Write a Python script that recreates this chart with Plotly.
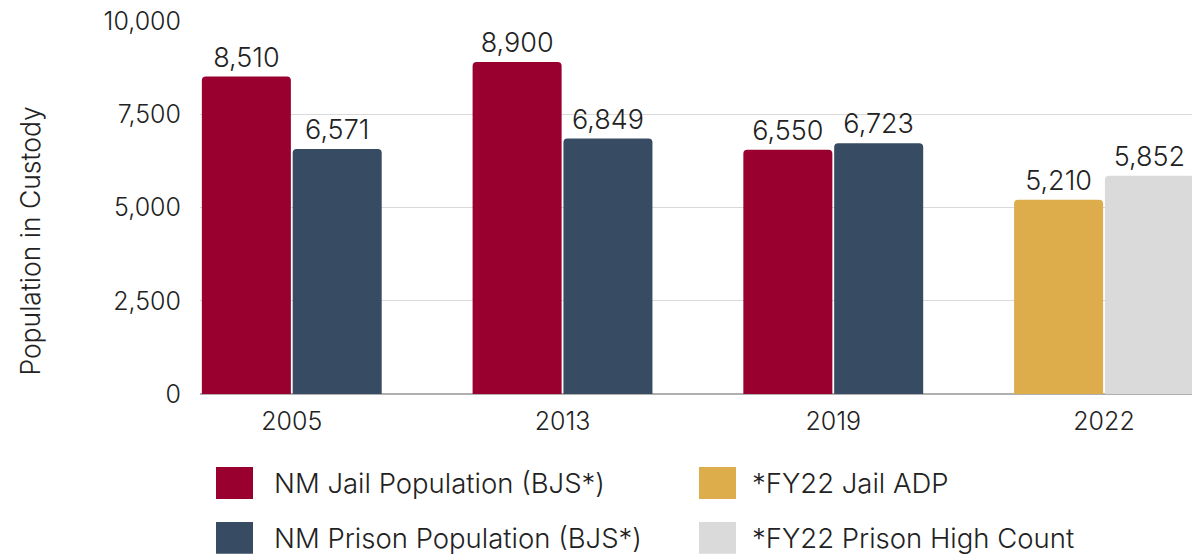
import plotly.graph_objects as go

years = ["2005", "2013", "2019", "2022"]
jail_bjs = [8510, 8900, 6550, None]
prison_bjs = [6571, 6849, 6723, None]
fy22_jail = [None, None, None, 5210]
fy22_prison = [None, None, None, 5852]

series_names = ["NM Jail Population (BJS*)", "NM Prison Population (BJS*)",
                "*FY22 Jail ADP", "*FY22 Prison High Count"]
colors = ["#990030", "#374C63", "#DDAD4B", "#DBDADB"]
y_ticks = [0, 2500, 5000, 7500, 10000]

W, H = 1192, 554
L, R, T, B = 200, 1192, 20.7, 394
FONT = "Inter, Roboto, sans-serif"
TXT = "#222222"
WT = 300

def px(xp):
    return (xp - L) / (R - L)

def py(yp):
    return (B - yp) / (B - T)

fig = go.Figure()
series = [jail_bjs, prison_bjs, fy22_jail, fy22_prison]
groups = ["a", "b", "a", "b"]
for name, vals, col, grp in zip(series_names, series, colors, groups):
    fig.add_trace(go.Bar(
        x=years, y=vals, name=name, offsetgroup=grp,
        marker=dict(color=col, line=dict(width=0)),
        text=[f"{v:,}" if v is not None else "" for v in vals],
        textposition="outside", cliponaxis=False,
        textfont=dict(family=FONT, size=27, color=TXT, weight=WT),
        showlegend=False,
    ))

fig.update_layout(
    width=W, height=H,
    margin=dict(l=L, r=W - R, t=T, b=H - B),
    paper_bgcolor="white", plot_bgcolor="white",
    barmode="group", bargap=0.329, bargroupgap=0.02,
    barcornerradius=4,
    font=dict(family=FONT, color=TXT, weight=WT),
    uniformtext=dict(mode=False),
)
fig.update_xaxes(
    type="category", range=[-0.339, 3.325],
    showgrid=False, showline=False, zeroline=False, ticks="",
    tickfont=dict(family=FONT, size=25, color=TXT, weight=WT),
    ticklabelstandoff=10,
)
fig.update_yaxes(
    range=[0, 10000], tickvals=y_ticks,
    ticktext=[f"{v:,}" for v in y_ticks],
    showgrid=True, gridcolor="#D9D9D9", gridwidth=1,
    zeroline=True, zerolinecolor="#AFAFAF", zerolinewidth=1.5,
    showline=False, ticks="",
    tickfont=dict(family=FONT, size=25, color=TXT, weight=WT),
    ticklabelstandoff=18,
)

# Axis title
fig.add_annotation(
    text="Population in Custody", textangle=-90,
    xref="paper", yref="paper", x=px(30), y=py(241.5),
    showarrow=False, font=dict(family=FONT, size=26.5, color=TXT, weight=WT),
    xanchor="center", yanchor="middle",
)

# Manual legend (large square swatches)
legend_pos = [
    (216, 467, 272, 483),
    (216, 522, 272, 538),
    (699, 467, 750, 483),
    (699, 522, 750, 538),
]
for name, col, (sx, sy, tx, ty) in zip(series_names, colors, legend_pos):
    fig.add_shape(
        type="rect", xref="paper", yref="paper",
        x0=px(sx), x1=px(sx + 37), y0=py(sy + 32), y1=py(sy),
        fillcolor=col, line=dict(width=0),
    )
    fig.add_annotation(
        text=name, xref="paper", yref="paper", x=px(tx), y=py(ty),
        showarrow=False, xanchor="left", yanchor="middle",
        font=dict(family=FONT, size=27.5, color=TXT, weight=WT),
    )

fig.write_html(
    "out.html",
    config={"displayModeBar": False},
    post_script="document.body.style.margin='0px';document.body.style.overflow='hidden';",
)
